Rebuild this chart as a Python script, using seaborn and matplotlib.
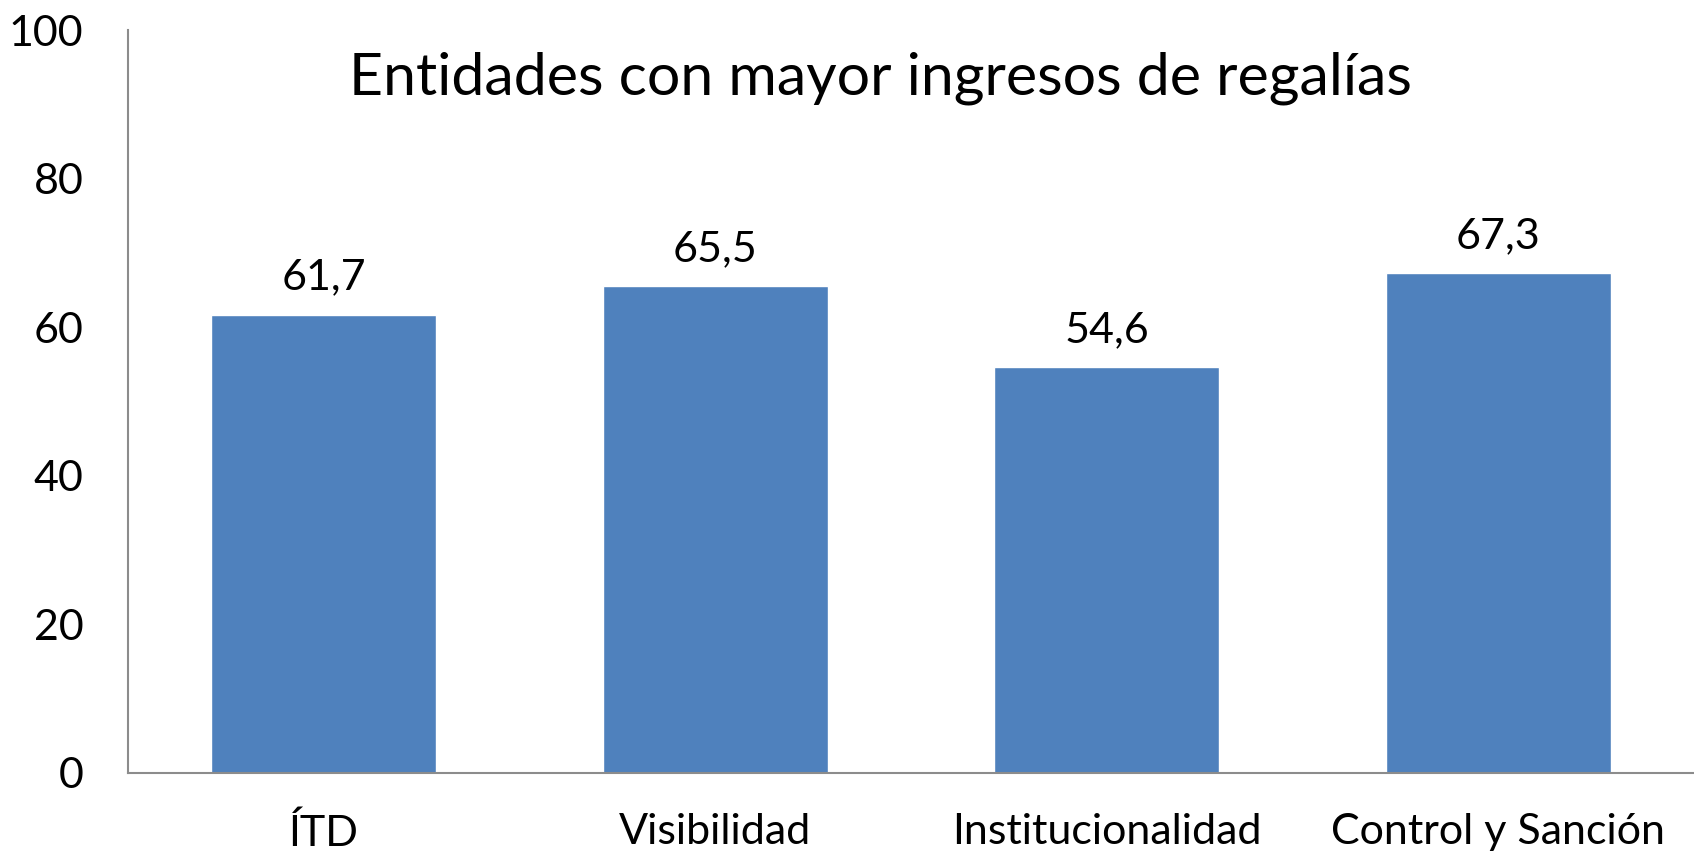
import matplotlib
matplotlib.use("Agg")
import matplotlib.pyplot as plt
import seaborn as sns
import pandas as pd

# Data
categorias = ["ÍTD", "Visibilidad", "Institucionalidad", "Control y Sanción"]
valores = [61.7, 65.5, 54.6, 67.3]
y_ticks = [0, 20, 40, 60, 80, 100]
titulo = "Entidades con mayor ingresos de regalías"

sns.set_theme(style="white")
plt.rcParams["font.family"] = ["Lato", "DejaVu Sans"]

df = pd.DataFrame({"categoria": categorias, "valor": valores})

fig = plt.figure(figsize=(16.94, 8.56), dpi=100)
ax = fig.add_axes([128 / 1694, 1 - 773 / 856, 1 - 128 / 1694, (773 - 30) / 856])

sns.barplot(data=df, x="categoria", y="valor", color="#4F81BD", saturation=1,
            width=0.575, ax=ax)

ax.set_ylim(0, 100)
ax.set_yticks(y_ticks)
ax.set_xlim(-0.5, len(categorias) - 0.5)
ax.set_xlabel("")
ax.set_ylabel("")
ax.tick_params(axis="y", length=0, pad=32, labelsize=31, colors="black")
ax.tick_params(axis="x", length=0, pad=29, labelsize=31, colors="black")

for side in ["top", "right"]:
    ax.spines[side].set_visible(False)
for side in ["left", "bottom"]:
    ax.spines[side].set_color("#8c8c8c")
    ax.spines[side].set_linewidth(1.5)

# value labels with comma decimals
for i, v in enumerate(valores):
    ax.annotate(f"{v:.1f}".replace(".", ","), (i, v), xytext=(0, 13),
                textcoords="offset points", ha="center", va="bottom",
                fontsize=31, color="black")

fig.text(880 / 1694, 1 - 78 / 856, titulo, ha="center", va="center",
         fontsize=42.5, color="black")

fig.savefig("out.png", dpi=100)
